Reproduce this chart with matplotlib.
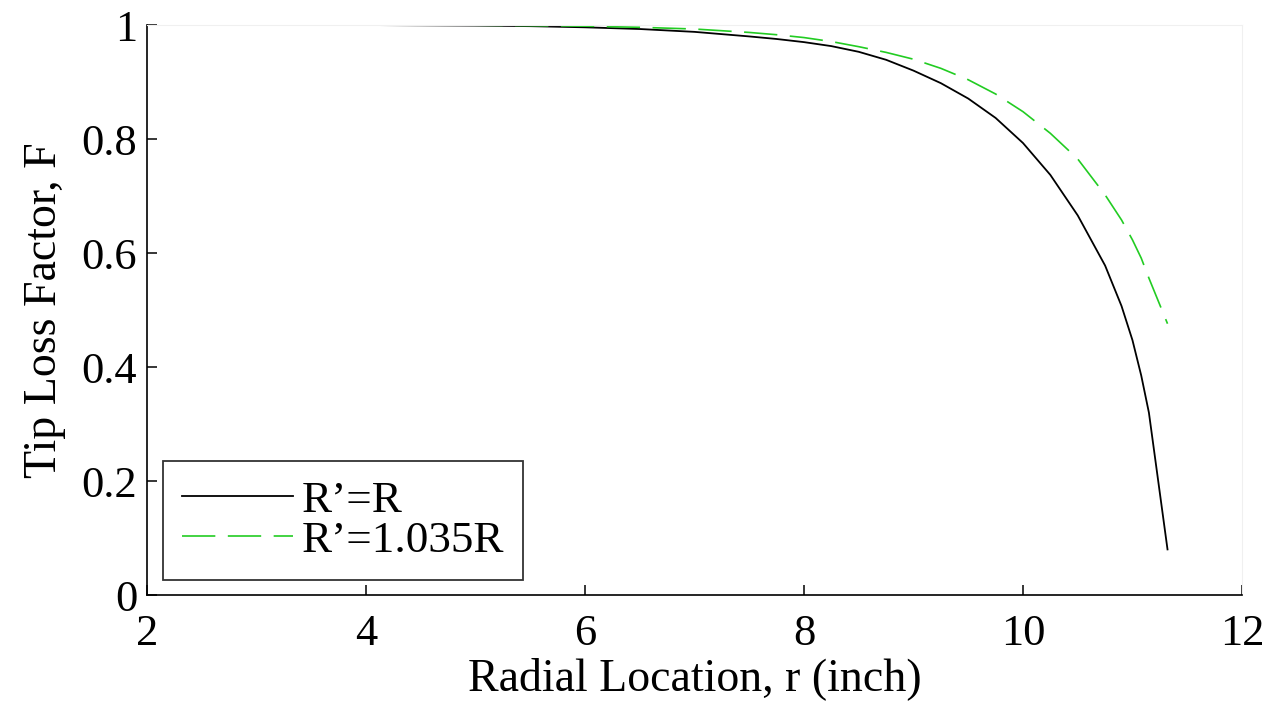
import numpy as np
import matplotlib
matplotlib.use("Agg")
import matplotlib.pyplot as plt

plt.rcParams['font.family'] = ['Liberation Serif', 'DejaVu Serif']

# radial location (inch)
r = [2.85, 3.5, 4.0, 4.5, 5.0, 5.5, 6.0, 6.5, 7.0, 7.5, 7.75, 8.0, 8.25,
     8.5, 8.75, 9.0, 9.25, 9.5, 9.75, 10.0, 10.25, 10.5, 10.75, 10.9,
     11.0, 11.08, 11.15, 11.32]
# tip loss factor, R' = R
F_R = [1.0, 1.0, 1.0, 0.9995, 0.999, 0.998, 0.996, 0.993, 0.988, 0.980,
       0.9755, 0.970, 0.963, 0.953, 0.939, 0.920, 0.898, 0.871, 0.837,
       0.793, 0.737, 0.666, 0.578, 0.507, 0.447, 0.385, 0.320, 0.080]
# tip loss factor, R' = 1.035R
F_R2 = [1.0, 1.0, 1.0, 0.9998, 0.9997, 0.999, 0.998, 0.996, 0.993, 0.987,
        0.983, 0.978, 0.971, 0.962, 0.952, 0.940, 0.924, 0.904, 0.879,
        0.848, 0.810, 0.765, 0.702, 0.658, 0.623, 0.591, 0.556, 0.476]

fig = plt.figure(figsize=(12.65, 7.01), dpi=100)
ax = fig.add_axes([0.1162, 0.1512, 0.8656, 0.8131])

ax.plot(r, F_R, color='black', lw=1.3, label='R\u2019=R')
ax.plot(r, F_R2, color='#22cc22', lw=1.2, linestyle=(0, (20, 7.5)),
        label='R\u2019=1.035R')

ax.set_xlim(2, 12)
ax.set_ylim(0, 1)
ax.set_xticks([2, 4, 6, 8, 10, 12])
ax.set_yticks([0, 0.2, 0.4, 0.6, 0.8, 1])
ax.set_yticklabels(['0', '0.2', '0.4', '0.6', '0.8', '1'])
ax.tick_params(direction='in', length=7, width=1.1, labelsize=32)
ax.tick_params(axis='x', pad=14)
ax.tick_params(axis='y', pad=7)

for s in ['left', 'bottom']:
    ax.spines[s].set_linewidth(1.2)
for s in ['top', 'right']:
    ax.spines[s].set_color('#f0f0f0')

ax.set_xlabel('Radial Location, r (inch)', fontsize=33, labelpad=2)
ax.set_ylabel('Tip Loss Factor, F', fontsize=33, labelpad=11)

leg = ax.legend(loc='lower left', fontsize=32.5, fancybox=False, framealpha=1,
                edgecolor='#333333', handlelength=2.45, handletextpad=0.2,
                borderpad=0.42, labelspacing=0.0, borderaxespad=0,
                bbox_to_anchor=(0.0146, 0.026))
leg.get_frame().set_linewidth(1.3)

fig.savefig('out.png', dpi=100)
